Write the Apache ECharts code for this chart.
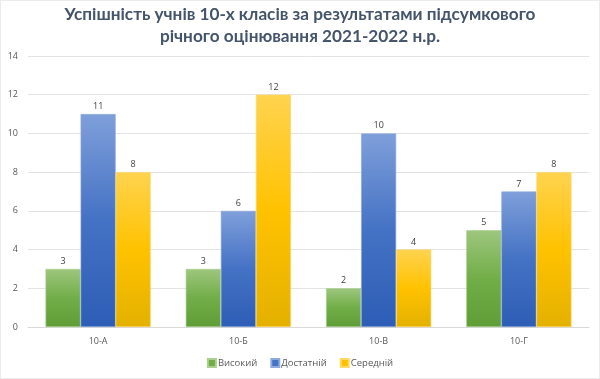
<!DOCTYPE html>
<html>
<head>
<meta charset="utf-8">
<script src="https://cdn.jsdelivr.net/npm/echarts@6/dist/echarts.min.js"></script>
<style>
html,body{margin:0;padding:0;background:#fff;}
#c{width:598px;height:377px;border:1px solid #ececec;}
</style>
</head>
<body>
<div id="c"></div>
<script>
const titleText = 'Успішність учнів 10-х класів за результатами підсумкового\nрічного оцінювання 2021-2022 н.р.';
const categories = ['10-А', '10-Б', '10-В', '10-Г'];
const seriesNames = ['Високий', 'Достатній', 'Середній'];
const vysokyi = [3, 3, 2, 5];
const dostatnii = [11, 6, 10, 7];
const serednii = [8, 12, 4, 8];
const yTicks = [0, 2, 4, 6, 8, 10, 12, 14];

function grad(top, mid, bot) {
  return new echarts.graphic.LinearGradient(0, 0, 0, 1, [
    {offset: 0, color: top}, {offset: 0.5, color: mid}, {offset: 1, color: bot}
  ]);
}
const styles = [
  {fill: grad('#9dc67e', '#72ae48', '#5f9d36'), legend: '#70ad47', border: '#a9d08e'},
  {fill: grad('#7f9fda', '#4472c4', '#2d5db5'), legend: '#4472c4', border: '#8faadc'},
  {fill: grad('#ffd34f', '#ffc200', '#e4b100'), legend: '#ffc000', border: '#ffd966'}
];
const data = [vysokyi, dostatnii, serednii];

const chart = echarts.init(document.getElementById('c'), null, {renderer: 'canvas'});
chart.setOption({
  animation: false,
  title: {
    text: titleText,
    left: 'center',
    top: 2,
    padding: 0,
    textStyle: {fontFamily: 'Lato', fontWeight: 'bold', fontSize: 17.2, color: '#44546a', lineHeight: 22}
  },
  legend: {
    bottom: 5,
    left: 'center',
    itemWidth: 8,
    itemHeight: 8,
    itemGap: 13,
    icon: 'rect',
    textStyle: {fontFamily: 'Open Sans', fontSize: 9.5, color: '#595959', padding: [0, 0, 0, -3]},
    data: seriesNames.map((n, i) => ({name: n, itemStyle: {color: styles[i].legend}}))
  },
  grid: {left: 27, right: 10, top: 55, bottom: 51, containLabel: false},
  xAxis: {
    type: 'category',
    data: categories,
    axisTick: {show: false},
    axisLine: {lineStyle: {color: '#d9d9d9'}},
    axisLabel: {fontFamily: 'Open Sans', fontSize: 9, color: '#595959', margin: 10}
  },
  yAxis: {
    type: 'value',
    min: yTicks[0],
    max: yTicks[yTicks.length - 1],
    interval: 2,
    axisLine: {show: false},
    axisTick: {show: false},
    splitLine: {lineStyle: {color: '#e3e3e3'}},
    axisLabel: {fontFamily: 'Open Sans', fontSize: 9, color: '#595959', margin: 10}
  },
  series: seriesNames.map((n, i) => ({
    name: n,
    type: 'bar',
    data: data[i],
    barGap: '0%',
    barCategoryGap: '25%',
    itemStyle: {color: styles[i].fill, borderColor: styles[i].border, borderWidth: 0.6},
    label: {show: true, position: 'top', distance: 3, fontFamily: 'Open Sans', fontSize: 9, color: '#404040'}
  }))
});
</script>
</body>
</html>
